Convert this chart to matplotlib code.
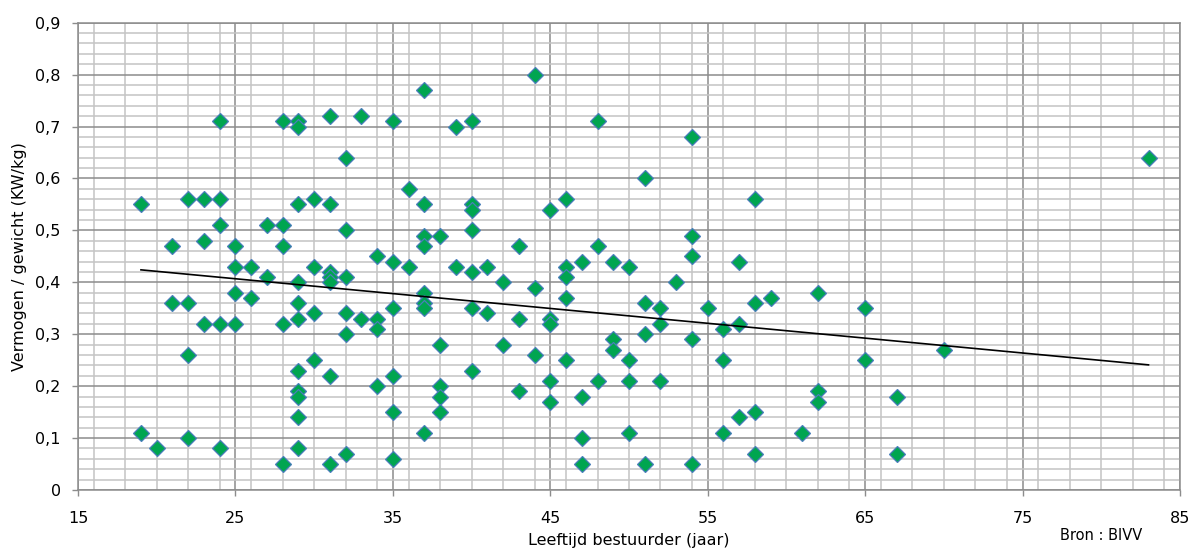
import matplotlib
matplotlib.use("Agg")
import matplotlib.pyplot as plt
from matplotlib.ticker import MultipleLocator, FixedLocator, FuncFormatter

# ---- data (age in years, power/weight in kW/kg) ----
age = [19, 19,
       20,
       21, 21,
       22, 22, 22, 22,
       23, 23, 23,
       24, 24, 24, 24, 24,
       25, 25, 25, 25,
       26, 26,
       27, 27,
       28, 28, 28, 28, 28,
       29, 29, 29, 29, 29, 29, 29, 29, 29, 29, 29,
       30, 30, 30, 30,
       31, 31, 31, 31, 31, 31, 31,
       32, 32, 32, 32, 32, 32,
       33, 33,
       34, 34, 34, 34,
       35, 35, 35, 35, 35, 35,
       36, 36,
       37, 37, 37, 37, 37, 37, 37, 37,
       38, 38, 38, 38, 38,
       39, 39,
       40, 40, 40, 40, 40, 40, 40,
       41, 41,
       42, 42,
       43, 43, 43,
       44, 44, 44,
       45, 45, 45, 45, 45,
       46, 46, 46, 46, 46,
       47, 47, 47, 47,
       48, 48, 48,
       49, 49, 49,
       50, 50, 50, 50,
       51, 51, 51, 51,
       52, 52, 52,
       53,
       54, 54, 54, 54, 54,
       55,
       56, 56, 56,
       57, 57, 57,
       58, 58, 58, 58,
       59,
       61,
       62, 62, 62,
       65, 65,
       67, 67,
       70,
       83]
power = [0.55, 0.11,
         0.08,
         0.47, 0.36,
         0.56, 0.36, 0.26, 0.10,
         0.56, 0.48, 0.32,
         0.71, 0.56, 0.51, 0.32, 0.08,
         0.47, 0.43, 0.38, 0.32,
         0.43, 0.37,
         0.51, 0.41,
         0.71, 0.51, 0.47, 0.32, 0.05,
         0.71, 0.70, 0.55, 0.40, 0.36, 0.33, 0.23, 0.19, 0.18, 0.14, 0.08,
         0.56, 0.43, 0.34, 0.25,
         0.72, 0.55, 0.42, 0.41, 0.40, 0.22, 0.05,
         0.64, 0.50, 0.41, 0.34, 0.30, 0.07,
         0.72, 0.33,
         0.45, 0.33, 0.31, 0.20,
         0.71, 0.44, 0.35, 0.22, 0.15, 0.06,
         0.58, 0.43,
         0.77, 0.55, 0.49, 0.47, 0.38, 0.36, 0.35, 0.11,
         0.49, 0.28, 0.20, 0.18, 0.15,
         0.70, 0.43,
         0.71, 0.55, 0.54, 0.50, 0.42, 0.35, 0.23,
         0.43, 0.34,
         0.40, 0.28,
         0.47, 0.33, 0.19,
         0.80, 0.39, 0.26,
         0.54, 0.33, 0.32, 0.21, 0.17,
         0.56, 0.43, 0.41, 0.37, 0.25,
         0.44, 0.18, 0.10, 0.05,
         0.71, 0.47, 0.21,
         0.44, 0.29, 0.27,
         0.43, 0.25, 0.21, 0.11,
         0.60, 0.36, 0.30, 0.05,
         0.35, 0.32, 0.21,
         0.40,
         0.68, 0.49, 0.45, 0.29, 0.05,
         0.35,
         0.31, 0.25, 0.11,
         0.44, 0.32, 0.14,
         0.56, 0.36, 0.15, 0.07,
         0.37,
         0.11,
         0.38, 0.19, 0.17,
         0.35, 0.25,
         0.18, 0.07,
         0.27,
         0.64]

# linear trend line (end points)
trend_age = [19, 83]
trend_power = [0.424, 0.241]

x_ticks = [15, 25, 35, 45, 55, 65, 75, 85]
y_ticks = [0, 0.1, 0.2, 0.3, 0.4, 0.5, 0.6, 0.7, 0.8, 0.9]

x_label = "Leeftijd bestuurder (jaar)"
y_label = "Vermogen / gewicht (KW/kg)"
source = "Bron : BIVV"

# ---- figure ----
W, H = 1192, 548
fig = plt.figure(figsize=(W / 100, H / 100), dpi=100)
ax = fig.add_axes([78 / W, 1 - 490 / H, (1180 - 78) / W, (490 - 22.7) / H])

ax.set_xlim(15, 85)
ax.set_ylim(0, 0.9)
ax.xaxis.set_major_locator(FixedLocator(x_ticks))
ax.xaxis.set_minor_locator(MultipleLocator(2))
ax.yaxis.set_major_locator(FixedLocator(y_ticks))
ax.yaxis.set_minor_locator(MultipleLocator(0.02))

def yfmt(v, pos):
    s = ("%.1f" % v).replace(".", ",")
    return "0" if abs(v) < 1e-9 else s

ax.yaxis.set_major_formatter(FuncFormatter(yfmt))

ax.grid(which="minor", color="#c4c4c4", linewidth=1.1, zorder=0)
ax.grid(which="major", color="#8c8c8c", linewidth=1.1, zorder=0)
ax.set_axisbelow(True)

ax.tick_params(which="major", direction="out", length=4.5, width=1, color="#8c8c8c",
               labelsize=11.5, labelcolor="#000000")
ax.tick_params(axis="x", which="major", pad=10.5)
ax.tick_params(axis="y", which="major", pad=8)
ax.tick_params(which="minor", length=0)
for s in ax.spines.values():
    s.set_color("#8c8c8c")
    s.set_linewidth(1.1)

ax.plot(age, power, linestyle="none", marker="D", markersize=8,
        markerfacecolor="#00a550", markeredgecolor="#4a7ebb", markeredgewidth=0.9,
        zorder=3, clip_on=False)
ax.plot(trend_age, trend_power, color="#000000", linewidth=1.2, zorder=4)

fig.text(20 / W, 1 - 257 / H, y_label, rotation=90, ha="center", va="center",
         fontsize=11.5)
fig.text(629 / W, 1 - 540 / H, x_label, ha="center", va="center", fontsize=11.5)
fig.text(1142 / W, 1 - 535 / H, source, ha="right", va="center", fontsize=10.5)

fig.savefig("out.png", dpi=100)
